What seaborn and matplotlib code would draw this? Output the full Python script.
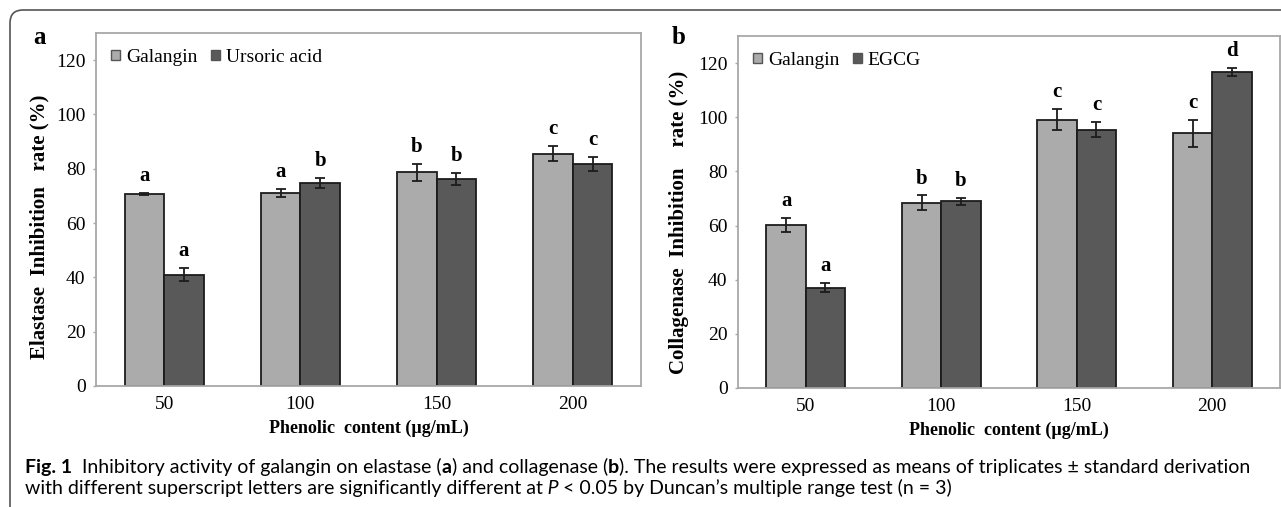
import matplotlib
matplotlib.use("Agg")
import matplotlib.pyplot as plt
from matplotlib.patches import FancyBboxPatch
import seaborn as sns
import pandas as pd

# ---------------- data ----------------
conc = ["50", "100", "150", "200"]

# panel a (elastase)
gal_a = [70.7, 71.2, 78.7, 85.6]
gal_a_err = [0.4, 1.5, 3.2, 2.8]
urs_a = [41.0, 74.9, 76.3, 81.9]
urs_a_err = [2.3, 1.8, 2.2, 2.6]
gal_a_letters = ["a", "a", "b", "c"]
urs_a_letters = ["a", "b", "b", "c"]

# panel b (collagenase)
gal_b = [60.2, 68.5, 99.0, 94.0]
gal_b_err = [2.7, 2.6, 3.9, 5.0]
egcg_b = [37.0, 69.0, 95.4, 116.8]
egcg_b_err = [1.7, 1.3, 2.8, 1.4]
gal_b_letters = ["a", "b", "c", "c"]
egcg_b_letters = ["a", "b", "c", "d"]

yticks = [0, 20, 40, 60, 80, 100, 120]

LIGHT = "#ababab"
DARK = "#595959"
SPINE = "#a8a8a8"
SERIF = ["Liberation Serif", "DejaVu Serif"]
SANS = ["Lato", "DejaVu Sans"]

W, H = 1281, 507
fig = plt.figure(figsize=(W / 100, H / 100), dpi=100)
fig.patch.set_facecolor("white")


def axes_px(left, right, top, bottom):
    return fig.add_axes([left / W, 1 - bottom / H, (right - left) / W, (bottom - top) / H])


ax_a = axes_px(96, 641, 33, 386)
ax_b = axes_px(738, 1280, 36, 388)


def panel(ax, names, vals1, err1, let1, vals2, err2, let2, ylabel, ylab_x, ylab_y):
    df = pd.DataFrame({
        "conc": conc * 2,
        "compound": [names[0]] * len(conc) + [names[1]] * len(conc),
        "value": vals1 + vals2,
    })
    sns.barplot(data=df, x="conc", y="value", hue="compound", order=conc,
                hue_order=names, palette=[LIGHT, DARK], saturation=1,
                width=0.58, gap=0, errorbar=None, edgecolor="#1c1c1c",
                linewidth=1.3, ax=ax)
    for cont, errs, lets in zip(ax.containers[:2], [err1, err2], [let1, let2]):
        xs = [b.get_x() + b.get_width() / 2 for b in cont]
        hs = [b.get_height() for b in cont]
        ax.errorbar(xs, hs, yerr=errs, fmt="none", ecolor="#1c1c1c",
                    elinewidth=1.3, capsize=3.3, capthick=1.3, zorder=5)
        for x, h, e, l in zip(xs, hs, errs, lets):
            ax.annotate(l, xy=(x, h + e), xytext=(0, 5), textcoords="offset points",
                        ha="center", va="bottom", fontsize=15, fontweight="bold",
                        family=SERIF)
    handles, labels = ax.get_legend_handles_labels()
    leg = ax.legend(handles, labels, loc="upper left", bbox_to_anchor=(0.0275, 0.955),
                    ncol=2, frameon=False, handlelength=0.47, handleheight=0.47,
                    handletextpad=0.3, columnspacing=0.7, borderaxespad=0,
                    borderpad=0, prop={"family": SERIF, "size": 14})
    for h in leg.legend_handles:
        h.set_edgecolor("#555555")
        h.set_linewidth(1.0)
    ax.set_xlim(-0.5, 3.5)
    ax.set_ylim(0, 130)
    ax.set_yticks(yticks)
    ax.set_yticklabels([str(v) for v in yticks], family=SERIF, fontsize=14)
    ax.set_xticks(range(len(conc)))
    ax.set_xticklabels(conc, family=SERIF, fontsize=14)
    ax.tick_params(axis="y", length=2.5, width=1.0, color=SPINE, pad=5)
    ax.tick_params(axis="x", length=0, pad=7)
    for s in ax.spines.values():
        s.set_visible(True)
        s.set_color(SPINE)
        s.set_linewidth(1.3)
    ax.set_xlabel("Phenolic  content (\u00b5g/mL)", family=SERIF, fontsize=13,
                  fontweight="bold", labelpad=5)
    ax.set_ylabel(ylabel, family=SERIF, fontsize=15, fontweight="bold")
    ax.yaxis.set_label_coords(ylab_x, ylab_y)


panel(ax_a, ["Galangin", "Ursoric acid"], gal_a, gal_a_err, gal_a_letters,
      urs_a, urs_a_err, urs_a_letters, "Elastase  Inhibition   rate (%)", -0.085, 0.452)
panel(ax_b, ["Galangin", "EGCG"], gal_b, gal_b_err, gal_b_letters,
      egcg_b, egcg_b_err, egcg_b_letters, "Collagenase  Inhibition    rate (%)", -0.09, 0.47)

fig.text(39 / W, 1 - 38 / H, "a", ha="center", va="center", fontsize=18,
         fontweight="bold", family=SERIF)
fig.text(679 / W, 1 - 37 / H, "b", ha="center", va="center", fontsize=18,
         fontweight="bold", family=SERIF)

# figure frame
frame = FancyBboxPatch((0.10, -0.6), 14.0, 4.97 + 0.6,
                       boxstyle="round,pad=0,rounding_size=0.13",
                       transform=fig.dpi_scale_trans, fill=False,
                       edgecolor="#555555", linewidth=1.2, clip_on=False)
fig.add_artist(frame)

# caption
CAP = 14


def rich_line(x_px, base_px, pieces):
    t = fig.text(x_px / W, 1 - base_px / H, pieces[0][0], va="baseline", ha="left",
                 fontsize=CAP, family=SANS, **pieces[0][1])
    for s, st in pieces[1:]:
        t = ax_a.annotate(s, xy=(1, 0), xycoords=t, va="bottom", ha="left",
                          fontsize=CAP, family=SANS, annotation_clip=False, **st)
    return t


B = {"fontweight": "bold"}
N = {}
I = {"fontstyle": "italic"}
rich_line(25, 473, [
    ("Fig. 1", B),
    ("  Inhibitory activity of galangin on elastase (", N),
    ("a", B),
    (") and collagenase (", N),
    ("b", B),
    ("). The results were expressed as means of triplicates \u00b1 standard derivation", N),
])
rich_line(25, 494, [
    ("with different superscript letters are significantly different at", N),
    (" P", I),
    (" < 0.05 by Duncan\u2019s multiple range test (n = 3)", N),
])

fig.savefig("out.png", dpi=100)
